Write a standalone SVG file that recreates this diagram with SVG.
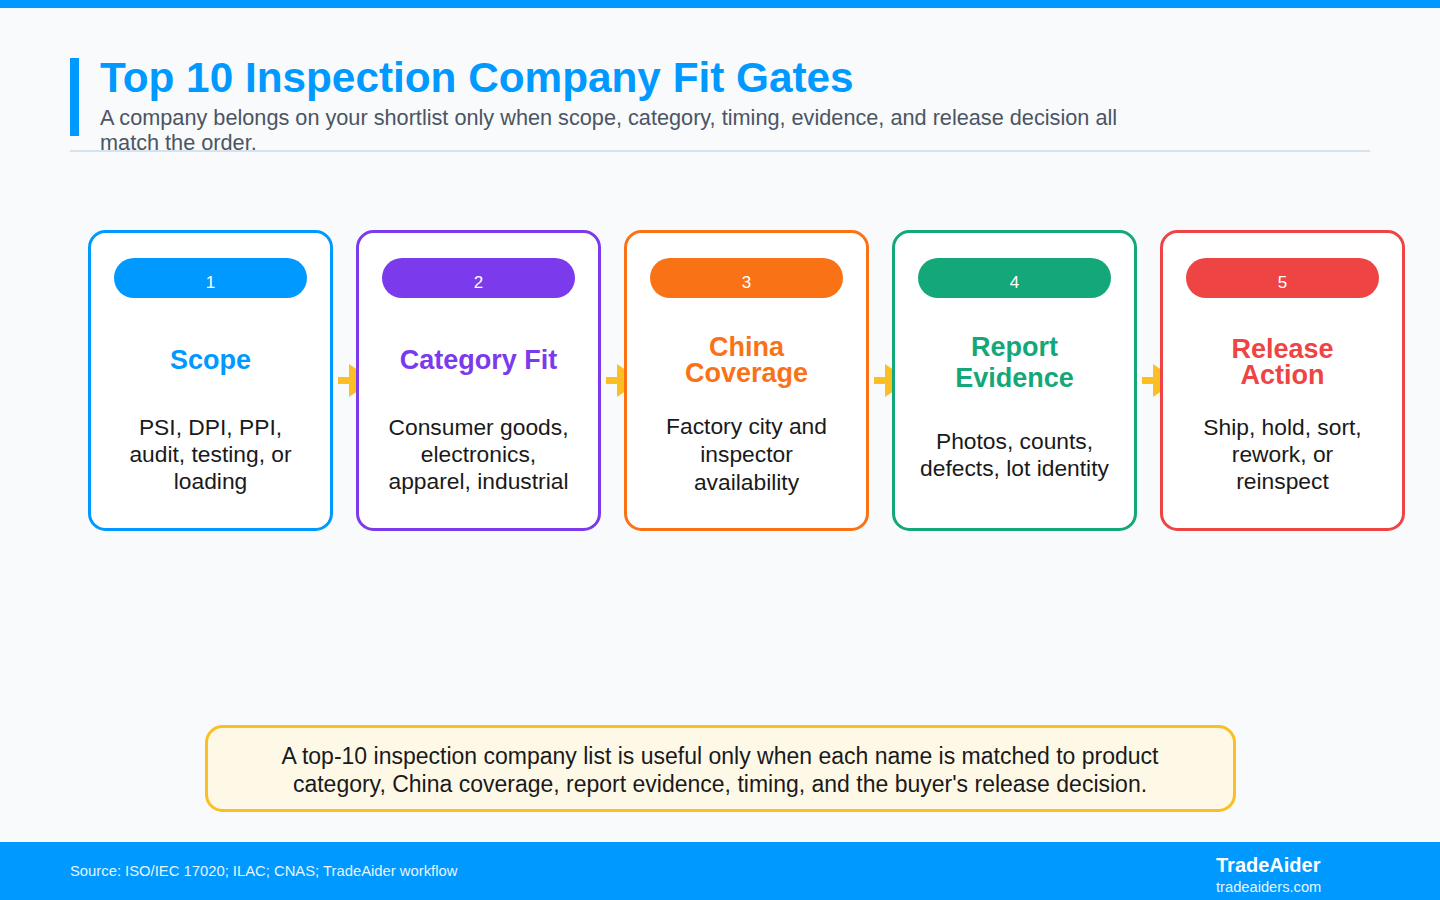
<svg xmlns="http://www.w3.org/2000/svg" width="1440" height="900" viewBox="0 0 1440 900">
<defs>
<style>
.bg{fill:#F8FAFC}
.card{fill:#FFFFFF;stroke-width:3}
.num{font-family:"Liberation Sans",Arial,sans-serif;font-size:17px;fill:#FFFFFF;text-anchor:middle}
.ct{font-family:"Liberation Sans",Arial,sans-serif;font-size:27px;font-weight:bold;text-anchor:middle}
.cb{font-family:"Liberation Sans",Arial,sans-serif;font-size:22.8px;fill:#1A1A1A;text-anchor:middle}
.note{font-family:"Liberation Sans",Arial,sans-serif;font-size:23px;fill:#1A1A1A;text-anchor:middle}
.conn line{stroke:#FBBF24;stroke-width:7}
.conn polygon{fill:#FBBF24}
</style>
</defs>
<rect class="bg" x="0" y="0" width="1440" height="900"/>
<rect x="0" y="0" width="1440" height="8" fill="#0099FF"/>
<g id="header">
<rect x="70" y="58" width="9" height="78" fill="#0099FF"/>
<text x="100" y="92" font-family="Liberation Sans, Arial, sans-serif" font-size="42.3" font-weight="bold" fill="#0099FF">Top 10 Inspection Company Fit Gates</text>
<text font-family="Liberation Sans, Arial, sans-serif" font-size="21.7" fill="#4B5563"><tspan x="100" y="125">A company belongs on your shortlist only when scope, category, timing, evidence, and release decision all</tspan><tspan x="100" y="150">match the order.</tspan></text>
<line x1="70" y1="151" x2="1370" y2="151" stroke="#D5E3EF" stroke-width="2"/>
</g>
<g id="connectors" class="conn">
<line x1="338" y1="380.5" x2="350" y2="380.5"/><polygon points="349,364 373,380.5 349,397"/>
<line x1="606" y1="380.5" x2="618" y2="380.5"/><polygon points="617,364 641,380.5 617,397"/>
<line x1="874" y1="380.5" x2="886" y2="380.5"/><polygon points="885,364 909,380.5 885,397"/>
<line x1="1142" y1="380.5" x2="1154" y2="380.5"/><polygon points="1153,364 1177,380.5 1153,397"/>
</g>
<g id="node1">
<rect class="card" x="89.5" y="231.5" width="242" height="298" rx="16" stroke="#0099FF"/>
<rect x="114" y="258" width="193" height="40" rx="20" fill="#0099FF"/>
<text class="num" x="210.5" y="288">1</text>
<text class="ct" x="210.5" y="369" fill="#0099FF">Scope</text>
<text class="cb"><tspan x="210.5" y="435">PSI, DPI, PPI,</tspan><tspan x="210.5" y="462">audit, testing, or</tspan><tspan x="210.5" y="489">loading</tspan></text>
</g>
<g id="node2">
<rect class="card" x="357.5" y="231.5" width="242" height="298" rx="16" stroke="#7C3AED"/>
<rect x="382" y="258" width="193" height="40" rx="20" fill="#7C3AED"/>
<text class="num" x="478.5" y="288">2</text>
<text class="ct" x="478.5" y="369" fill="#7C3AED">Category Fit</text>
<text class="cb"><tspan x="478.5" y="435">Consumer goods,</tspan><tspan x="478.5" y="462">electronics,</tspan><tspan x="478.5" y="489">apparel, industrial</tspan></text>
</g>
<g id="node3">
<rect class="card" x="625.5" y="231.5" width="242" height="298" rx="16" stroke="#F97316"/>
<rect x="650" y="258" width="193" height="40" rx="20" fill="#F97316"/>
<text class="num" x="746.5" y="288">3</text>
<text class="ct" fill="#F97316"><tspan x="746.5" y="356">China</tspan><tspan x="746.5" y="382">Coverage</tspan></text>
<text class="cb"><tspan x="746.5" y="434">Factory city and</tspan><tspan x="746.5" y="462">inspector</tspan><tspan x="746.5" y="490">availability</tspan></text>
</g>
<g id="node4">
<rect class="card" x="893.5" y="231.5" width="242" height="298" rx="16" stroke="#13A77A"/>
<rect x="918" y="258" width="193" height="40" rx="20" fill="#13A77A"/>
<text class="num" x="1014.5" y="288">4</text>
<text class="ct" fill="#13A77A"><tspan x="1014.5" y="356">Report</tspan><tspan x="1014.5" y="387">Evidence</tspan></text>
<text class="cb"><tspan x="1014.5" y="449">Photos, counts,</tspan><tspan x="1014.5" y="476">defects, lot identity</tspan></text>
</g>
<g id="node5">
<rect class="card" x="1161.5" y="231.5" width="242" height="298" rx="16" stroke="#EF4444"/>
<rect x="1186" y="258" width="193" height="40" rx="20" fill="#EF4444"/>
<text class="num" x="1282.5" y="288">5</text>
<text class="ct" fill="#EF4444"><tspan x="1282.5" y="358">Release</tspan><tspan x="1282.5" y="384">Action</tspan></text>
<text class="cb"><tspan x="1282.5" y="435">Ship, hold, sort,</tspan><tspan x="1282.5" y="462">rework, or</tspan><tspan x="1282.5" y="489">reinspect</tspan></text>
</g>
<g id="note">
<rect x="206.5" y="726.5" width="1028" height="84" rx="16" fill="#FEF9E7" stroke="#FBBF24" stroke-width="3"/>
<text class="note"><tspan x="720" y="764">A top-10 inspection company list is useful only when each name is matched to product</tspan><tspan x="720" y="792">category, China coverage, report evidence, timing, and the buyer's release decision.</tspan></text>
</g>
<g id="footer">
<rect x="0" y="842" width="1440" height="58" fill="#0099FF"/>
<text x="70" y="876" font-family="Liberation Sans, Arial, sans-serif" font-size="14.8" fill="#E6F4FF">Source: ISO/IEC 17020; ILAC; CNAS; TradeAider workflow</text>
<text x="1216" y="872" font-family="Liberation Sans, Arial, sans-serif" font-size="20" font-weight="bold" fill="#FFFFFF">TradeAider</text>
<text x="1216" y="892" font-family="Liberation Sans, Arial, sans-serif" font-size="14.7" fill="#E6F4FF">tradeaiders.com</text>
</g>
</svg>
